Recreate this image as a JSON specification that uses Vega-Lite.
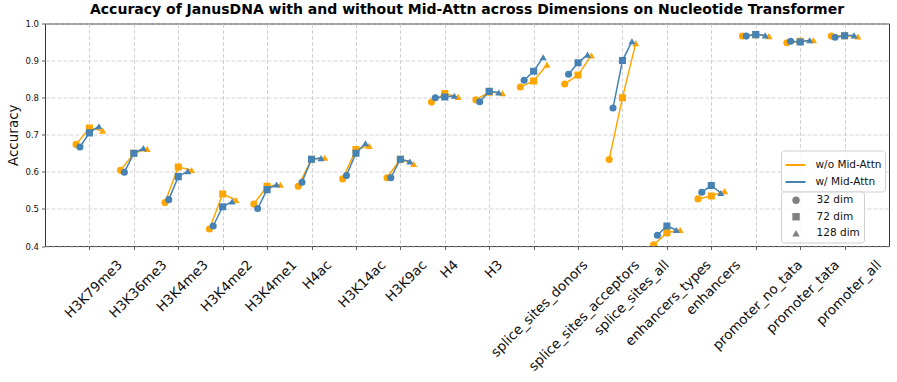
{
  "$schema": "https://vega.github.io/schema/vega-lite/v6.json",
  "width": 844,
  "height": 222.5,
  "autosize": {"type": "none"},
  "padding": {"left": 45, "top": 23.5, "right": 8, "bottom": 136},
  "background": "white",
  "title": {
    "text": "Accuracy of JanusDNA with and without Mid-Attn across Dimensions on Nucleotide Transformer",
    "font": "DejaVu Sans",
    "fontSize": 14,
    "fontWeight": "bold",
    "color": "#000",
    "anchor": "middle",
    "offset": 3
  },
  "config": {
    "font": "DejaVu Sans",
    "view": {"stroke": "#333", "strokeWidth": 1},
    "axis": {
      "domain": false,
      "tickColor": "#333",
      "tickSize": 3.5,
      "tickWidth": 0.8,
      "gridColor": "#c8c8c8",
      "gridDash": [4, 2],
      "gridWidth": 0.8,
      "labelColor": "#111",
      "titleColor": "#111",
      "labelFont": "DejaVu Sans",
      "titleFont": "DejaVu Sans"
    },
    "legend": {
      "labelFont": "DejaVu Sans",
      "labelFontSize": 10.5,
      "labelColor": "#111",
      "fillColor": "rgba(255,255,255,0.85)",
      "strokeColor": "#d0d0d0",
      "cornerRadius": 3,
      "padding": 3.5,
      "layout": {"bottom-right": {"direction": "vertical", "anchor": "end", "margin": -3}}
    }
  },
  "data": {
    "values": [
      {"task": "H3K79me3", "series": "w/o Mid-Attn", "dim": 32, "acc": 0.674},
      {"task": "H3K79me3", "series": "w/o Mid-Attn", "dim": 72, "acc": 0.718},
      {"task": "H3K79me3", "series": "w/o Mid-Attn", "dim": 128, "acc": 0.711},
      {"task": "H3K36me3", "series": "w/o Mid-Attn", "dim": 32, "acc": 0.604},
      {"task": "H3K36me3", "series": "w/o Mid-Attn", "dim": 72, "acc": 0.650},
      {"task": "H3K36me3", "series": "w/o Mid-Attn", "dim": 128, "acc": 0.662},
      {"task": "H3K4me3", "series": "w/o Mid-Attn", "dim": 32, "acc": 0.517},
      {"task": "H3K4me3", "series": "w/o Mid-Attn", "dim": 72, "acc": 0.613},
      {"task": "H3K4me3", "series": "w/o Mid-Attn", "dim": 128, "acc": 0.605},
      {"task": "H3K4me2", "series": "w/o Mid-Attn", "dim": 32, "acc": 0.446},
      {"task": "H3K4me2", "series": "w/o Mid-Attn", "dim": 72, "acc": 0.540},
      {"task": "H3K4me2", "series": "w/o Mid-Attn", "dim": 128, "acc": 0.524},
      {"task": "H3K4me1", "series": "w/o Mid-Attn", "dim": 32, "acc": 0.513},
      {"task": "H3K4me1", "series": "w/o Mid-Attn", "dim": 72, "acc": 0.561},
      {"task": "H3K4me1", "series": "w/o Mid-Attn", "dim": 128, "acc": 0.565},
      {"task": "H4ac", "series": "w/o Mid-Attn", "dim": 32, "acc": 0.561},
      {"task": "H4ac", "series": "w/o Mid-Attn", "dim": 72, "acc": 0.634},
      {"task": "H4ac", "series": "w/o Mid-Attn", "dim": 128, "acc": 0.638},
      {"task": "H3K14ac", "series": "w/o Mid-Attn", "dim": 32, "acc": 0.581},
      {"task": "H3K14ac", "series": "w/o Mid-Attn", "dim": 72, "acc": 0.660},
      {"task": "H3K14ac", "series": "w/o Mid-Attn", "dim": 128, "acc": 0.670},
      {"task": "H3K9ac", "series": "w/o Mid-Attn", "dim": 32, "acc": 0.584},
      {"task": "H3K9ac", "series": "w/o Mid-Attn", "dim": 72, "acc": 0.634},
      {"task": "H3K9ac", "series": "w/o Mid-Attn", "dim": 128, "acc": 0.621},
      {"task": "H4", "series": "w/o Mid-Attn", "dim": 32, "acc": 0.788},
      {"task": "H4", "series": "w/o Mid-Attn", "dim": 72, "acc": 0.811},
      {"task": "H4", "series": "w/o Mid-Attn", "dim": 128, "acc": 0.802},
      {"task": "H3", "series": "w/o Mid-Attn", "dim": 32, "acc": 0.794},
      {"task": "H3", "series": "w/o Mid-Attn", "dim": 72, "acc": 0.815},
      {"task": "H3", "series": "w/o Mid-Attn", "dim": 128, "acc": 0.812},
      {"task": "splice_sites_donors", "series": "w/o Mid-Attn", "dim": 32, "acc": 0.829},
      {"task": "splice_sites_donors", "series": "w/o Mid-Attn", "dim": 72, "acc": 0.845},
      {"task": "splice_sites_donors", "series": "w/o Mid-Attn", "dim": 128, "acc": 0.889},
      {"task": "splice_sites_acceptors", "series": "w/o Mid-Attn", "dim": 32, "acc": 0.837},
      {"task": "splice_sites_acceptors", "series": "w/o Mid-Attn", "dim": 72, "acc": 0.861},
      {"task": "splice_sites_acceptors", "series": "w/o Mid-Attn", "dim": 128, "acc": 0.914},
      {"task": "splice_sites_all", "series": "w/o Mid-Attn", "dim": 32, "acc": 0.633},
      {"task": "splice_sites_all", "series": "w/o Mid-Attn", "dim": 72, "acc": 0.800},
      {"task": "splice_sites_all", "series": "w/o Mid-Attn", "dim": 128, "acc": 0.947},
      {"task": "enhancers_types", "series": "w/o Mid-Attn", "dim": 32, "acc": 0.403},
      {"task": "enhancers_types", "series": "w/o Mid-Attn", "dim": 72, "acc": 0.436},
      {"task": "enhancers_types", "series": "w/o Mid-Attn", "dim": 128, "acc": 0.443},
      {"task": "enhancers", "series": "w/o Mid-Attn", "dim": 32, "acc": 0.527},
      {"task": "enhancers", "series": "w/o Mid-Attn", "dim": 72, "acc": 0.535},
      {"task": "enhancers", "series": "w/o Mid-Attn", "dim": 128, "acc": 0.548},
      {"task": "promoter_no_tata", "series": "w/o Mid-Attn", "dim": 32, "acc": 0.966},
      {"task": "promoter_no_tata", "series": "w/o Mid-Attn", "dim": 72, "acc": 0.970},
      {"task": "promoter_no_tata", "series": "w/o Mid-Attn", "dim": 128, "acc": 0.966},
      {"task": "promoter_tata", "series": "w/o Mid-Attn", "dim": 32, "acc": 0.948},
      {"task": "promoter_tata", "series": "w/o Mid-Attn", "dim": 72, "acc": 0.952},
      {"task": "promoter_tata", "series": "w/o Mid-Attn", "dim": 128, "acc": 0.955},
      {"task": "promoter_all", "series": "w/o Mid-Attn", "dim": 32, "acc": 0.966},
      {"task": "promoter_all", "series": "w/o Mid-Attn", "dim": 72, "acc": 0.967},
      {"task": "promoter_all", "series": "w/o Mid-Attn", "dim": 128, "acc": 0.965},
      {"task": "H3K79me3", "series": "w/ Mid-Attn", "dim": 32, "acc": 0.667},
      {"task": "H3K79me3", "series": "w/ Mid-Attn", "dim": 72, "acc": 0.705},
      {"task": "H3K79me3", "series": "w/ Mid-Attn", "dim": 128, "acc": 0.723},
      {"task": "H3K36me3", "series": "w/ Mid-Attn", "dim": 32, "acc": 0.599},
      {"task": "H3K36me3", "series": "w/ Mid-Attn", "dim": 72, "acc": 0.650},
      {"task": "H3K36me3", "series": "w/ Mid-Attn", "dim": 128, "acc": 0.664},
      {"task": "H3K4me3", "series": "w/ Mid-Attn", "dim": 32, "acc": 0.525},
      {"task": "H3K4me3", "series": "w/ Mid-Attn", "dim": 72, "acc": 0.587},
      {"task": "H3K4me3", "series": "w/ Mid-Attn", "dim": 128, "acc": 0.602},
      {"task": "H3K4me2", "series": "w/ Mid-Attn", "dim": 32, "acc": 0.454},
      {"task": "H3K4me2", "series": "w/ Mid-Attn", "dim": 72, "acc": 0.506},
      {"task": "H3K4me2", "series": "w/ Mid-Attn", "dim": 128, "acc": 0.520},
      {"task": "H3K4me1", "series": "w/ Mid-Attn", "dim": 32, "acc": 0.501},
      {"task": "H3K4me1", "series": "w/ Mid-Attn", "dim": 72, "acc": 0.552},
      {"task": "H3K4me1", "series": "w/ Mid-Attn", "dim": 128, "acc": 0.566},
      {"task": "H4ac", "series": "w/ Mid-Attn", "dim": 32, "acc": 0.572},
      {"task": "H4ac", "series": "w/ Mid-Attn", "dim": 72, "acc": 0.634},
      {"task": "H4ac", "series": "w/ Mid-Attn", "dim": 128, "acc": 0.637},
      {"task": "H3K14ac", "series": "w/ Mid-Attn", "dim": 32, "acc": 0.590},
      {"task": "H3K14ac", "series": "w/ Mid-Attn", "dim": 72, "acc": 0.650},
      {"task": "H3K14ac", "series": "w/ Mid-Attn", "dim": 128, "acc": 0.677},
      {"task": "H3K9ac", "series": "w/ Mid-Attn", "dim": 32, "acc": 0.584},
      {"task": "H3K9ac", "series": "w/ Mid-Attn", "dim": 72, "acc": 0.634},
      {"task": "H3K9ac", "series": "w/ Mid-Attn", "dim": 128, "acc": 0.628},
      {"task": "H4", "series": "w/ Mid-Attn", "dim": 32, "acc": 0.800},
      {"task": "H4", "series": "w/ Mid-Attn", "dim": 72, "acc": 0.802},
      {"task": "H4", "series": "w/ Mid-Attn", "dim": 128, "acc": 0.805},
      {"task": "H3", "series": "w/ Mid-Attn", "dim": 32, "acc": 0.789},
      {"task": "H3", "series": "w/ Mid-Attn", "dim": 72, "acc": 0.817},
      {"task": "H3", "series": "w/ Mid-Attn", "dim": 128, "acc": 0.814},
      {"task": "splice_sites_donors", "series": "w/ Mid-Attn", "dim": 32, "acc": 0.847},
      {"task": "splice_sites_donors", "series": "w/ Mid-Attn", "dim": 72, "acc": 0.871},
      {"task": "splice_sites_donors", "series": "w/ Mid-Attn", "dim": 128, "acc": 0.909},
      {"task": "splice_sites_acceptors", "series": "w/ Mid-Attn", "dim": 32, "acc": 0.863},
      {"task": "splice_sites_acceptors", "series": "w/ Mid-Attn", "dim": 72, "acc": 0.894},
      {"task": "splice_sites_acceptors", "series": "w/ Mid-Attn", "dim": 128, "acc": 0.916},
      {"task": "splice_sites_all", "series": "w/ Mid-Attn", "dim": 32, "acc": 0.772},
      {"task": "splice_sites_all", "series": "w/ Mid-Attn", "dim": 72, "acc": 0.900},
      {"task": "splice_sites_all", "series": "w/ Mid-Attn", "dim": 128, "acc": 0.952},
      {"task": "enhancers_types", "series": "w/ Mid-Attn", "dim": 32, "acc": 0.429},
      {"task": "enhancers_types", "series": "w/ Mid-Attn", "dim": 72, "acc": 0.454},
      {"task": "enhancers_types", "series": "w/ Mid-Attn", "dim": 128, "acc": 0.443},
      {"task": "enhancers", "series": "w/ Mid-Attn", "dim": 32, "acc": 0.545},
      {"task": "enhancers", "series": "w/ Mid-Attn", "dim": 72, "acc": 0.563},
      {"task": "enhancers", "series": "w/ Mid-Attn", "dim": 128, "acc": 0.543},
      {"task": "promoter_no_tata", "series": "w/ Mid-Attn", "dim": 32, "acc": 0.966},
      {"task": "promoter_no_tata", "series": "w/ Mid-Attn", "dim": 72, "acc": 0.970},
      {"task": "promoter_no_tata", "series": "w/ Mid-Attn", "dim": 128, "acc": 0.968},
      {"task": "promoter_tata", "series": "w/ Mid-Attn", "dim": 32, "acc": 0.952},
      {"task": "promoter_tata", "series": "w/ Mid-Attn", "dim": 72, "acc": 0.950},
      {"task": "promoter_tata", "series": "w/ Mid-Attn", "dim": 128, "acc": 0.955},
      {"task": "promoter_all", "series": "w/ Mid-Attn", "dim": 32, "acc": 0.963},
      {"task": "promoter_all", "series": "w/ Mid-Attn", "dim": 72, "acc": 0.967},
      {"task": "promoter_all", "series": "w/ Mid-Attn", "dim": 128, "acc": 0.968}
    ]
  },
  "encoding": {
    "x": {
      "field": "task",
      "type": "nominal",
      "scale": {
        "type": "point",
        "padding": 1.167,
        "domain": ["H3K79me3", "H3K36me3", "H3K4me3", "H3K4me2", "H3K4me1", "H4ac", "H3K14ac", "H3K9ac", "H4", "H3", "splice_sites_donors", "splice_sites_acceptors", "splice_sites_all", "enhancers_types", "enhancers", "promoter_no_tata", "promoter_tata", "promoter_all"]
      },
      "axis": {
        "title": null,
        "grid": true,
        "labelAngle": -45,
        "labelAlign": "right",
        "labelBaseline": "top",
        "labelFontSize": 13.5,
        "labelOverlap": false,
        "labelLimit": 400,
        "labelPadding": 8,
        "labelOffset": {"expr": "5 + 0.354 * ((substring(datum.label, 0, 1) === 'H' ? 9.2 : 7.0) * length(datum.label) - 15.7)"}
      }
    },
    "y": {
      "field": "acc",
      "type": "quantitative",
      "scale": {"domain": [0.4, 1.0], "nice": false, "zero": false},
      "axis": {
        "title": "Accuracy",
        "titleFontSize": 13.5,
        "titleFontWeight": "normal",
        "titlePadding": 4,
        "values": [0.4, 0.5, 0.6, 0.7, 0.8, 0.9, 1.0],
        "format": ".1f",
        "labelFontSize": 8.5,
        "labelPadding": 3,
        "grid": true
      }
    }
  },
  "layer": [
    {
      "transform": [{"filter": "datum.series === 'w/o Mid-Attn'"}],
      "encoding": {
        "xOffset": {"field": "dim", "type": "ordinal", "scale": {"type": "point", "domain": [32, 72, 128], "range": [-13.3, 13.3], "padding": 0}}
      },
      "layer": [
        {
          "mark": {"type": "line", "clip": true, "strokeWidth": 1.5},
          "encoding": {
            "detail": {"field": "task"},
            "order": {"field": "dim", "type": "quantitative"},
            "color": {
              "field": "series",
              "type": "nominal",
              "scale": {"domain": ["w/o Mid-Attn", "w/ Mid-Attn"], "range": ["#FFA500", "#4682B4"]},
              "legend": {"title": null, "orient": "bottom-right", "offset": 4, "symbolType": "stroke", "symbolSize": 400, "symbolStrokeWidth": 2, "labelOffset": 9, "rowPadding": -4}
            }
          }
        },
        {
          "mark": {"type": "point", "filled": true, "opacity": 1, "size": 50, "clip": true, "color": "gray"},
          "encoding": {
            "fill": {
              "field": "series",
              "type": "nominal",
              "scale": {"domain": ["w/o Mid-Attn", "w/ Mid-Attn"], "range": ["#FFA500", "#4682B4"]},
              "legend": null
            },
            "shape": {
              "field": "dim",
              "type": "ordinal",
              "scale": {"domain": [32, 72, 128], "range": ["circle", "square", "triangle-up"]},
              "legend": {"title": null, "orient": "bottom-right", "offset": 4, "labelExpr": "datum.label + ' dim\u00a0\u00a0\u00a0\u00a0\u00a0\u00a0\u00a0'", "symbolFillColor": "gray", "symbolStrokeColor": "gray", "symbolStrokeWidth": 0, "symbolSize": 55, "symbolOffset": 6.3, "labelOffset": 15.3, "rowPadding": 5.5}
            }
          }
        }
      ]
    },
    {
      "transform": [{"filter": "datum.series === 'w/ Mid-Attn'"}],
      "encoding": {
        "xOffset": {"field": "dim", "type": "ordinal", "scale": {"type": "point", "domain": [32, 72, 128], "range": [-9.5, 9.5], "padding": 0}}
      },
      "layer": [
        {
          "mark": {"type": "line", "clip": true, "strokeWidth": 1.5},
          "encoding": {
            "detail": {"field": "task"},
            "order": {"field": "dim", "type": "quantitative"},
            "color": {
              "field": "series",
              "type": "nominal",
              "scale": {"domain": ["w/o Mid-Attn", "w/ Mid-Attn"], "range": ["#FFA500", "#4682B4"]},
              "legend": {"title": null, "orient": "bottom-right", "offset": 4, "symbolType": "stroke", "symbolSize": 400, "symbolStrokeWidth": 2, "labelOffset": 9, "rowPadding": -4}
            }
          }
        },
        {
          "mark": {"type": "point", "filled": true, "opacity": 1, "size": 50, "clip": true, "color": "gray"},
          "encoding": {
            "fill": {
              "field": "series",
              "type": "nominal",
              "scale": {"domain": ["w/o Mid-Attn", "w/ Mid-Attn"], "range": ["#FFA500", "#4682B4"]},
              "legend": null
            },
            "shape": {
              "field": "dim",
              "type": "ordinal",
              "scale": {"domain": [32, 72, 128], "range": ["circle", "square", "triangle-up"]},
              "legend": {"title": null, "orient": "bottom-right", "offset": 4, "labelExpr": "datum.label + ' dim\u00a0\u00a0\u00a0\u00a0\u00a0\u00a0\u00a0'", "symbolFillColor": "gray", "symbolStrokeColor": "gray", "symbolStrokeWidth": 0, "symbolSize": 55, "symbolOffset": 6.3, "labelOffset": 15.3, "rowPadding": 5.5}
            }
          }
        }
      ]
    }
  ],
  "resolve": {"scale": {"xOffset": "independent"}}
}
